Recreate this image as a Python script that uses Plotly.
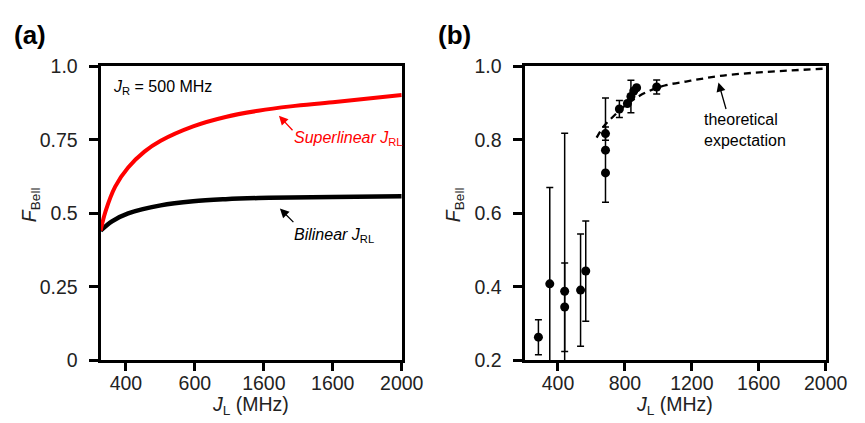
import plotly.graph_objects as go

# ---------------- data ----------------
# Panel (a): theory curves (x in axis units)
red_x = [326.5, 340.6, 368.9, 406.5, 453.7, 500.9, 595, 689, 783.6, 877.7, 1000, 1200]
red_y = [0.441, 0.506, 0.591, 0.656, 0.710, 0.747, 0.796, 0.828, 0.849, 0.864, 0.878, 0.903]
black_x = [326.5, 359.5, 406.5, 500.9, 595, 689, 783.6, 877.7, 1000, 1200]
black_y = [0.441, 0.473, 0.500, 0.527, 0.541, 0.548, 0.552, 0.554, 0.556, 0.558]
a_tickvals = [400, 600, 800, 1000, 1200]
a_ticktext = ["400", "600", "1600", "1600", "2000"]
a_ytickvals = [0, 0.25, 0.5, 0.75, 1.0]
a_yticktext = ["0", "0.25", "0.5", "0.75", "1.0"]

# Panel (b): measurements
b_x = [283, 351, 440, 440, 535, 566, 684, 684, 684, 767, 815, 836, 853, 870, 990]
b_y = [0.263, 0.408, 0.388, 0.345, 0.391, 0.443, 0.817, 0.772, 0.710, 0.884, 0.899, 0.918, 0.933, 0.942, 0.944]
b_err_plus = [0.047, 0.262, 0.430, 0.120, 0.153, 0.136, 0.018, 0.142, 0.0, 0.023, 0.0, 0.044, 0.0, 0.0, 0.019]
b_err_minus = [0.048, 0.300, 0.300, 0.121, 0.153, 0.137, 0.018, 0.142, 0.0, 0.023, 0.0, 0.044, 0.0, 0.0, 0.019]
theory_x = [631, 670, 709, 780, 845, 930, 1038, 1193, 1367, 1580, 1793, 2000]
theory_y = [0.806, 0.835, 0.854, 0.885, 0.908, 0.930, 0.948, 0.961, 0.974, 0.983, 0.989, 0.994]
b_tickvals = [400, 800, 1200, 1600, 2000]
b_ytickvals = [0.2, 0.4, 0.6, 0.8, 1.0]
b_yticktext = ["0.2", "0.4", "0.6", "0.8", "1.0"]

FONT = "Liberation Sans, Arial, sans-serif"
W, H = 865, 423

fig = go.Figure()

fig.add_trace(go.Scatter(x=black_x, y=black_y, mode="lines", line=dict(color="black", width=4.5, shape="spline"),
                         xaxis="x", yaxis="y", showlegend=False))
fig.add_trace(go.Scatter(x=red_x, y=red_y, mode="lines", line=dict(color="#ff0000", width=4, shape="spline"),
                         xaxis="x", yaxis="y", showlegend=False))

fig.add_trace(go.Scatter(x=theory_x, y=theory_y, mode="lines",
                         line=dict(color="black", width=2.3, dash="7px,5px", shape="spline"),
                         xaxis="x2", yaxis="y2", showlegend=False))
fig.add_trace(go.Scatter(x=b_x, y=b_y, mode="markers",
                         marker=dict(color="black", size=9),
                         error_y=dict(type="data", array=b_err_plus, arrayminus=b_err_minus,
                                      color="black", thickness=1.5, width=3.5),
                         xaxis="x2", yaxis="y2", showlegend=False))

def px_x(p):
    return p / W

def px_y(p):
    return 1 - p / H

axis_common = dict(showline=True, mirror=True, linecolor="black", linewidth=3,
                   ticks="outside", tickwidth=2.5, tickcolor="black",
                   showgrid=False, zeroline=False,
                   tickfont=dict(family=FONT, size=19.5, color="#222"))
xax = dict(ticklen=8, ticklabelstandoff=-5, **axis_common)
yax = dict(ticklen=9, ticklabelstandoff=7, **axis_common)

fig.update_layout(
    width=W, height=H,
    margin=dict(l=0, r=0, t=0, b=0),
    paper_bgcolor="white", plot_bgcolor="white",
    font=dict(family=FONT, color="black"),
    xaxis=dict(domain=[px_x(95), px_x(404)], range=[326.5, 1200], tickvals=a_tickvals, ticktext=a_ticktext,
               anchor="y", **xax),
    yaxis=dict(domain=[px_y(360), px_y(50)], range=[0, 1.0], tickvals=a_ytickvals, ticktext=a_yticktext,
               anchor="x", **yax),
    xaxis2=dict(domain=[px_x(530), px_x(839)], range=[200, 2000], tickvals=b_tickvals,
                anchor="y2", **xax),
    yaxis2=dict(domain=[px_y(360), px_y(50)], range=[0.2, 1.0], tickvals=b_ytickvals, ticktext=b_yticktext,
                anchor="x2", **yax),
)

ann = []
def paper_text(x, y, text, size=16, color="black", xanchor="center", yanchor="middle", **kw):
    ann.append(dict(x=px_x(x), y=px_y(y), xref="paper", yref="paper", text=text, showarrow=False,
                    font=dict(family=FONT, size=size, color=color), xanchor=xanchor, yanchor=yanchor, **kw))

# panel labels
paper_text(23, 17, "<b>(a)</b>", size=26)
paper_text(458, 17, "<b>(b)</b>", size=26)
# axis titles
paper_text(249, 408, "<i>J</i><sub>L</sub> (MHz)", size=19.5, color="#222")
paper_text(684, 408, "<i>J</i><sub>L</sub> (MHz)", size=19.5, color="#222")
paper_text(23, 196, "<i>F</i><sub>Bell</sub>", size=19.5, color="#222", textangle=-90)
paper_text(458, 196, "<i>F</i><sub>Bell</sub>", size=19.5, color="#222", textangle=-90)
# panel (a) texts
paper_text(106, 72, "<i>J</i><sub>R</sub> = 500 MHz", size=16, xanchor="left")
paper_text(291, 126, "<i>Superlinear J</i><sub>RL</sub>", size=16, color="#ff0000", xanchor="left")
paper_text(291, 228, "<i>Bilinear J</i><sub>RL</sub>", size=16, xanchor="left")
# panel (b) text
paper_text(712, 117, "theoretical<br>expectation", size=16, xanchor="left", align="left")

# arrows (tail at x0,y0 -> head at x1,y1, pixel coordinates)
def arrow(x0, y0, x1, y1, color):
    ann.append(dict(x=px_x(x1), y=px_y(y1), xref="paper", yref="paper",
                    ax=x0 - x1, ay=y0 - y1, axref="pixel", ayref="pixel",
                    text="", showarrow=True, arrowhead=2,
                    arrowsize=1.4, arrowwidth=1.3, arrowcolor=color))

arrow(293, 118, 278, 102, "#ff0000")
arrow(294, 215, 279, 200, "black")
arrow(737, 95, 729, 67, "black")

fig.update_layout(annotations=ann)
fig.write_html("out.html")
